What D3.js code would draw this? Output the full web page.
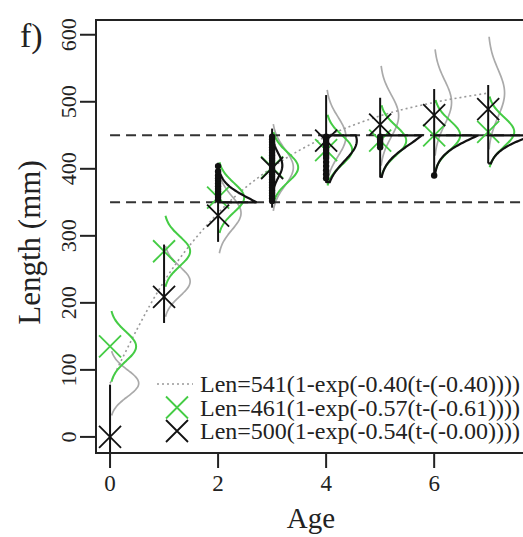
<!DOCTYPE html>
<html>
<head>
<meta charset="utf-8">
<script src="https://cdn.jsdelivr.net/npm/d3@7"></script>
<style>
body { margin: 0; background: #fff; }
text { font-family: "Liberation Serif", "Times New Roman", serif; fill: #222; }
</style>
</head>
<body>
<div id="chart"></div>
<script>
// ages on the x axis
var ages = [0, 1, 2, 3, 4, 5, 6, 7];

// gray series (Len=541 fit): mean length at age and spread
var grayMean = [80, 232, 334, 402, 448, 479, 499, 513];
var graySd = [20, 22, 25, 27, 29, 31, 33, 35];

// green series (Len=461 fit)
var greenMean = [135, 277, 357, 402, 428, 442, 450, 455];
var greenSd = [22, 22, 22, 22, 22, 22, 22, 22];

// black series (Len=500 fit) and the observed range at each age
var blackMean = [0, 209, 330, 401, 442, 466, 480, 489];
var blackLo = [-24, 170, 291, 342, 379, 387, 392, 408];
var blackHi = [78, 287, 409, 460, 510, 506, 519, 525];

// black (harvested) length distributions, cut by the slot limits
var blackAges = [2, 3, 4, 5, 6, 7];
var blackDistMean = [330, 405, 442, 466, 480, 489];
var blackDistSd = [25, 18, 30, 30, 30, 30];
var blackDistFrom = [350, 375, 380, 388, 395, 408];
var blackDistTo = [398, 440, 450, 450, 450, 450];
var blackDistWeight = [2.3, 0.32, 1.6, 2.5, 3.8, 5.5];

// individual harvested fish lengths
var catchAge2 = [354, 358, 362, 366, 370, 374, 378, 382, 386, 390, 396, 404];
var catchAge3 = [352, 356, 360, 364, 368, 372, 376, 380, 384, 388, 392, 396, 400, 404, 408, 412, 416, 420, 424, 428, 432, 436, 440, 444, 448];
var catchAge4 = [386, 392, 398, 404, 410, 416, 420, 424, 428, 432, 436, 440, 444, 448];
var catchAge5 = [432, 436, 440, 444, 448];
var catchAge6 = [390];

// slot limits
var slotLimits = [350, 450];

var yTicks = [0, 100, 200, 300, 400, 500, 600];
var xTicks = [0, 2, 4, 6];
var legendLabels = [
  'Len=541(1-exp(-0.40(t-(-0.40))))',
  'Len=461(1-exp(-0.57(t-(-0.61))))',
  'Len=500(1-exp(-0.54(t-(-0.00))))'
];

var W = 523, H = 537;
var pLeft = 96, pTop = 20, pBottom = 453, pRight = 526;

var x = d3.scaleLinear().domain([-0.26, 7.7]).range([pLeft, pRight]);
var y = d3.scaleLinear().domain([-24, 622]).range([pBottom, pTop]);
// density (per mm) to horizontal pixels
var dens = d3.scaleLinear().domain([0, 1]).range([0, 1441]);

var svg = d3.select('#chart').append('svg')
    .attr('width', W)
    .attr('height', H)
    .style('display', 'block');

svg.append('rect').attr('width', W).attr('height', H).attr('fill', '#fff');

svg.append('defs').append('clipPath').attr('id', 'plotclip')
    .append('rect')
    .attr('x', pLeft).attr('y', pTop)
    .attr('width', pRight - pLeft).attr('height', pBottom - pTop);

var plot = svg.append('g').attr('clip-path', 'url(#plotclip)');

function normal(v, m, s) {
  var z = (v - m) / s;
  return Math.exp(-0.5 * z * z) / (s * Math.sqrt(2 * Math.PI));
}

var curveLine = d3.line()
    .x(d => d[0])
    .y(d => d[1])
    .curve(d3.curveBasis);

function densityPath(t, m, s, from, to, w) {
  return d3.range(from, to + 0.001, (to - from) / 40)
      .map(v => [x(t) + dens(normal(v, m, s) * w), y(v)]);
}

// gray distributions
ages.forEach(function(t, i) {
  var m = grayMean[i], s = graySd[i];
  plot.append('path')
      .attr('d', curveLine(densityPath(t, m, s, m - 2.4 * s, m + 2.4 * s, 1)))
      .attr('fill', 'none')
      .attr('stroke', '#aaa')
      .attr('stroke-width', 1.7);
});

// fitted growth curve (gray dotted)
plot.append('path')
    .datum(ages.map((t, i) => [x(t), y(grayMean[i])]))
    .attr('d', d3.line().x(d => d[0]).y(d => d[1]).curve(d3.curveMonotoneX))
    .attr('fill', 'none')
    .attr('stroke', '#999')
    .attr('stroke-width', 1.6)
    .attr('stroke-dasharray', '2,3');

// slot limit lines
plot.selectAll('.slot')
    .data(slotLimits)
    .enter().append('line')
    .attr('class', 'slot')
    .attr('x1', x(0)).attr('x2', pRight)
    .attr('y1', d => y(d)).attr('y2', d => y(d))
    .attr('stroke', '#333')
    .attr('stroke-width', 2)
    .attr('stroke-dasharray', '10,6');

// green distributions and markers
var green = '#45cc45';
ages.forEach(function(t, i) {
  var m = greenMean[i], s = greenSd[i];
  plot.append('path')
      .attr('d', curveLine(densityPath(t, m, s, m - 2.4 * s, m + 2.4 * s, 1)))
      .attr('fill', 'none')
      .attr('stroke', green)
      .attr('stroke-width', 2);
});

var xMark = 'M-11,-11L11,11M-11,11L11,-11';

plot.selectAll('.greenx')
    .data(ages)
    .enter().append('path')
    .attr('class', 'greenx')
    .attr('d', xMark)
    .attr('transform', (t, i) => 'translate(' + x(t) + ',' + y(greenMean[i]) + ')')
    .attr('fill', 'none')
    .attr('stroke', green)
    .attr('stroke-width', 1.8);

// black observed ranges
plot.selectAll('.range')
    .data(ages)
    .enter().append('line')
    .attr('class', 'range')
    .attr('x1', t => x(t)).attr('x2', t => x(t))
    .attr('y1', (t, i) => y(blackLo[i]))
    .attr('y2', (t, i) => y(blackHi[i]))
    .attr('stroke', '#111')
    .attr('stroke-width', 2);

// black cut distributions
blackAges.forEach(function(t, i) {
  var pts = densityPath(t, blackDistMean[i], blackDistSd[i], blackDistFrom[i], blackDistTo[i], blackDistWeight[i]);
  pts.unshift([x(t), y(blackDistFrom[i])]);
  pts.push([x(t), y(blackDistTo[i])]);
  plot.append('path')
      .attr('d', d3.line()(pts))
      .attr('fill', 'none')
      .attr('stroke', '#111')
      .attr('stroke-width', 2.2);
});

// black fish points
var catches = [[2, catchAge2], [3, catchAge3], [4, catchAge4], [5, catchAge5], [6, catchAge6]];
catches.forEach(function(c) {
  plot.selectAll(null)
      .data(c[1])
      .enter().append('circle')
      .attr('cx', x(c[0]))
      .attr('cy', d => y(d))
      .attr('r', 3.2)
      .attr('fill', '#111');
});

plot.selectAll('.blackx')
    .data(ages)
    .enter().append('path')
    .attr('class', 'blackx')
    .attr('d', xMark)
    .attr('transform', (t, i) => 'translate(' + x(t) + ',' + y(blackMean[i]) + ')')
    .attr('fill', 'none')
    .attr('stroke', '#111')
    .attr('stroke-width', 1.8);

// axes box
svg.append('path')
    .attr('d', 'M' + pRight + ',' + pTop + 'H' + pLeft + 'V' + pBottom + 'H' + pRight)
    .attr('fill', 'none')
    .attr('stroke', '#222')
    .attr('stroke-width', 2);

// y axis
svg.selectAll('.ytick')
    .data(yTicks)
    .enter().append('line')
    .attr('x1', pLeft - 16).attr('x2', pLeft)
    .attr('y1', d => y(d)).attr('y2', d => y(d))
    .attr('stroke', '#222').attr('stroke-width', 2);

svg.selectAll('.ylab')
    .data(yTicks)
    .enter().append('text')
    .attr('transform', d => 'translate(68,' + y(d) + ') rotate(-90)')
    .attr('text-anchor', 'middle')
    .attr('dominant-baseline', 'central')
    .style('font-size', '22px')
    .text(d => d);

// x axis
svg.selectAll('.xtick')
    .data(xTicks)
    .enter().append('line')
    .attr('x1', d => x(d)).attr('x2', d => x(d))
    .attr('y1', pBottom).attr('y2', pBottom + 15)
    .attr('stroke', '#222').attr('stroke-width', 2);

svg.selectAll('.xlab')
    .data(xTicks)
    .enter().append('text')
    .attr('x', d => x(d))
    .attr('y', 491)
    .attr('text-anchor', 'middle')
    .style('font-size', '23px')
    .text(d => d);

svg.append('text')
    .attr('x', (pLeft + pRight) / 2)
    .attr('y', 528)
    .attr('text-anchor', 'middle')
    .style('font-size', '29px')
    .text('Age');

svg.append('text')
    .attr('transform', 'translate(40,' + ((pTop + pBottom) / 2 + 6) + ') rotate(-90)')
    .attr('text-anchor', 'middle')
    .style('font-size', '31px')
    .text('Length (mm)');

svg.append('text')
    .attr('x', 20)
    .attr('y', 47)
    .style('font-size', '34px')
    .text('f)');

// legend
var legend = svg.selectAll('.legend')
    .data(legendLabels)
    .enter().append('g')
    .attr('class', 'legend')
    .attr('transform', (d, i) => 'translate(0,' + (384 + i * 23.5) + ')');

legend.append('text')
    .attr('x', 200)
    .attr('y', 0)
    .attr('dominant-baseline', 'central')
    .style('font-size', '24px')
    .text(d => d);

legend.filter((d, i) => i === 0).append('line')
    .attr('x1', 157).attr('x2', 193)
    .attr('stroke', '#999')
    .attr('stroke-width', 1.6)
    .attr('stroke-dasharray', '2,3');

legend.filter((d, i) => i > 0).append('path')
    .attr('d', xMark)
    .attr('transform', 'translate(177,0)')
    .attr('fill', 'none')
    .attr('stroke', (d, i) => i === 0 ? green : '#111')
    .attr('stroke-width', 1.8);
</script>
</body>
</html>
